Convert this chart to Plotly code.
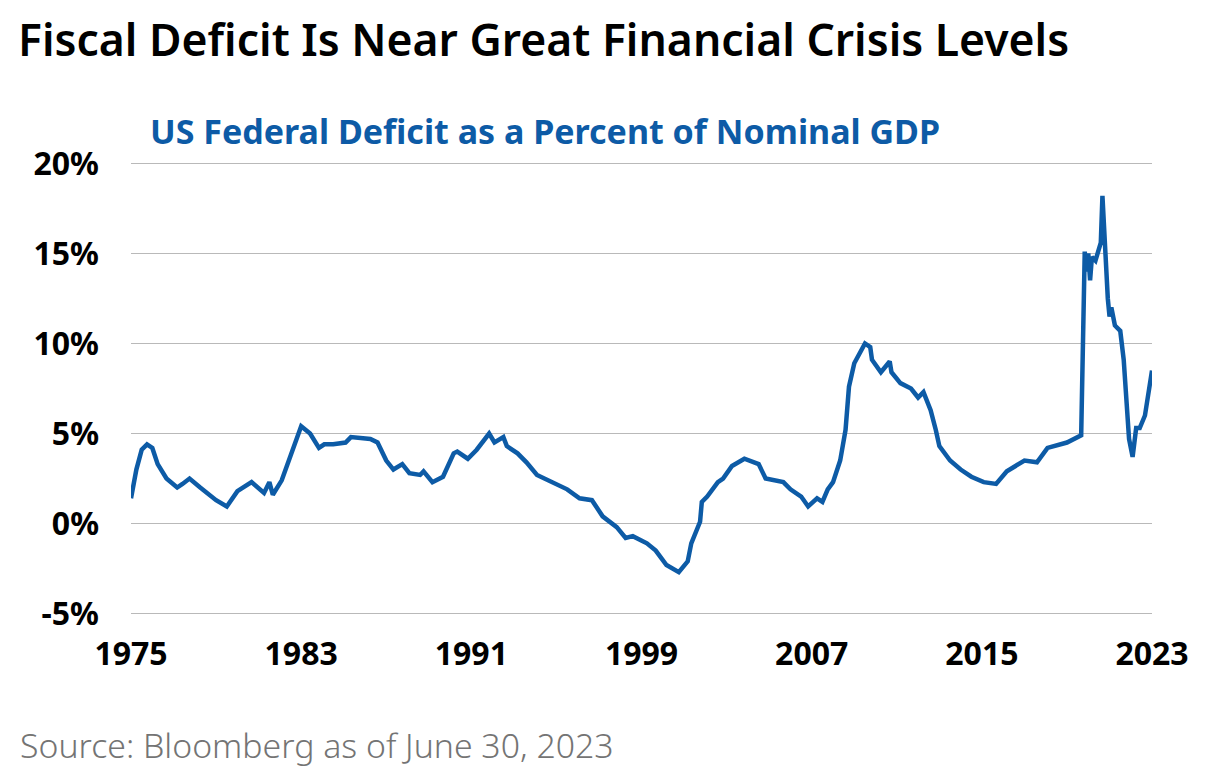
import plotly.graph_objects as go

# US federal deficit, % of nominal GDP
dates = [
    "1975-07", "1975-10", "1976-01", "1976-04", "1976-07", "1976-10", "1977-03", "1977-09",
    "1977-12", "1978-04", "1978-10", "1979-07", "1980-01", "1980-03", "1980-07", "1981-03",
    "1981-10", "1982-01", "1982-03", "1982-08", "1983-02", "1983-07", "1983-12", "1984-05",
    "1984-08", "1985-01", "1985-08", "1985-11", "1986-10", "1987-02", "1987-07", "1987-11",
    "1988-04", "1988-08", "1989-02", "1989-04", "1989-09", "1990-03", "1990-09", "1990-11",
    "1991-05", "1991-10", "1992-05", "1992-08", "1993-01", "1993-03", "1993-09", "1994-02",
    "1994-08", "1995-05", "1996-01", "1996-08", "1997-03", "1997-09", "1998-05", "1998-10",
    "1999-02", "1999-10", "2000-03", "2000-09", "2001-04", "2001-09", "2001-11", "2002-04",
    "2002-05", "2002-08", "2003-02", "2003-05", "2003-10", "2004-05", "2005-01", "2005-05",
    "2006-03", "2006-07", "2007-01", "2007-05", "2007-10", "2008-01", "2008-04", "2008-07",
    "2008-11", "2009-02", "2009-04", "2009-07", "2009-10", "2010-01", "2010-04", "2010-05",
    "2010-10", "2011-03", "2011-04", "2011-09", "2012-03", "2012-07", "2012-10", "2013-02",
    "2013-05", "2013-07", "2014-01", "2014-07", "2015-01", "2015-08", "2016-03", "2016-09",
    "2017-07", "2018-02", "2018-08", "2019-07", "2020-03", "2020-04", "2020-05", "2020-06",
    "2020-07", "2020-08", "2020-09", "2020-11", "2021-01", "2021-02", "2021-03", "2021-04",
    "2021-06", "2021-07", "2021-08", "2021-10", "2022-01", "2022-03", "2022-05", "2022-06",
    "2022-08", "2022-10", "2022-12", "2023-03", "2023-06-30",
]
deficit = [
    1.4, 3.0, 4.1, 4.4, 4.2, 3.3, 2.5, 2.0,
    2.2, 2.5, 2.0, 1.3, 0.95, 1.2, 1.8, 2.3,
    1.7, 2.3, 1.6, 2.4, 4.1, 5.4, 5.0, 4.2,
    4.4, 4.4, 4.5, 4.8, 4.7, 4.5, 3.5, 3.0,
    3.3, 2.8, 2.7, 2.9, 2.3, 2.6, 3.9, 4.0,
    3.6, 4.1, 5.0, 4.5, 4.8, 4.3, 3.9, 3.4,
    2.7, 2.3, 1.9, 1.4, 1.3, 0.4, -0.2, -0.8,
    -0.7, -1.1, -1.5, -2.3, -2.7, -2.1, -1.1, 0.1,
    1.2, 1.5, 2.3, 2.5, 3.2, 3.6, 3.3, 2.5,
    2.3, 1.9, 1.5, 0.95, 1.4, 1.2, 1.9, 2.3,
    3.5, 5.2, 7.6, 8.9, 9.5, 10.0, 9.8, 9.1,
    8.4, 9.0, 8.4, 7.8, 7.5, 7.0, 7.3, 6.3,
    5.2, 4.3, 3.5, 3.0, 2.6, 2.3, 2.2, 2.9,
    3.5, 3.4, 4.2, 4.5, 4.9, 9.8, 15.1, 14.0,
    15.0, 13.5, 14.8, 14.6, 15.2, 15.6, 18.2, 15.8,
    12.5, 11.5, 12.0, 11.0, 10.7, 9.1, 6.1, 4.7,
    3.7, 5.3, 5.3, 6.0, 8.5,
]

tick_years = ["1975", "1983", "1991", "1999", "2007", "2015", "2023"]
tick_vals = [y + "-07-01" for y in tick_years]
y_ticks = [-5, 0, 5, 10, 15, 20]
y_labels = ["-5%", "0%", "5%", "10%", "15%", "20%"]

blue = "#0d5ba6"

fig = go.Figure(go.Scatter(x=dates, y=deficit, mode="lines",
                           line=dict(color=blue, width=4.5), hoverinfo="skip"))

fig.update_layout(
    width=1211, height=780,
    margin=dict(l=131, r=59, t=158, b=161),
    paper_bgcolor="white", plot_bgcolor="white",
    showlegend=False,
    font=dict(family="Noto Sans", color="black"),
    title=dict(text="Fiscal Deficit Is Near Great Financial Crisis Levels",
               x=18 / 1211, xanchor="left", xref="container",
               y=1 - 40 / 780, yanchor="middle", yref="container",
               font=dict(size=44.5, color="black", family="Noto Sans", weight=600)),
)

fig.update_xaxes(type="date", range=["1975-07-01", "2023-06-30"],
                 tickvals=tick_vals, ticktext=tick_years,
                 showgrid=False, zeroline=False, showline=False, ticks="",
                 ticklabelstandoff=13,
                 tickfont=dict(size=32, family="Noto Sans", weight="bold", color="black"))
fig.update_yaxes(range=[-5.3, 20.3], tickvals=y_ticks, ticktext=y_labels,
                 showgrid=True, gridcolor="#b9b9b9", gridwidth=1,
                 zeroline=False, showline=False, ticks="",
                 ticklabelstandoff=31,
                 tickfont=dict(size=32, family="Noto Sans", weight="bold", color="black"))

fig.add_annotation(text="US Federal Deficit as a Percent of Nominal GDP",
                   xref="paper", yref="paper", x=(148 - 131) / 1021, y=(619 - 131) / 461,
                   xanchor="left", yanchor="middle", showarrow=False,
                   font=dict(size=34, color=blue, family="Noto Sans", weight="bold"))
fig.add_annotation(text="Source: Bloomberg as of June 30, 2023",
                   xref="paper", yref="paper", x=(18 - 131) / 1021, y=(619 - 745) / 461,
                   xanchor="left", yanchor="middle", showarrow=False,
                   font=dict(size=33.8, color="#747474", family="Noto Sans", weight=300))

fig.write_html("out.html", config={"displayModeBar": False},
               post_script="document.body.style.margin='0px';")
